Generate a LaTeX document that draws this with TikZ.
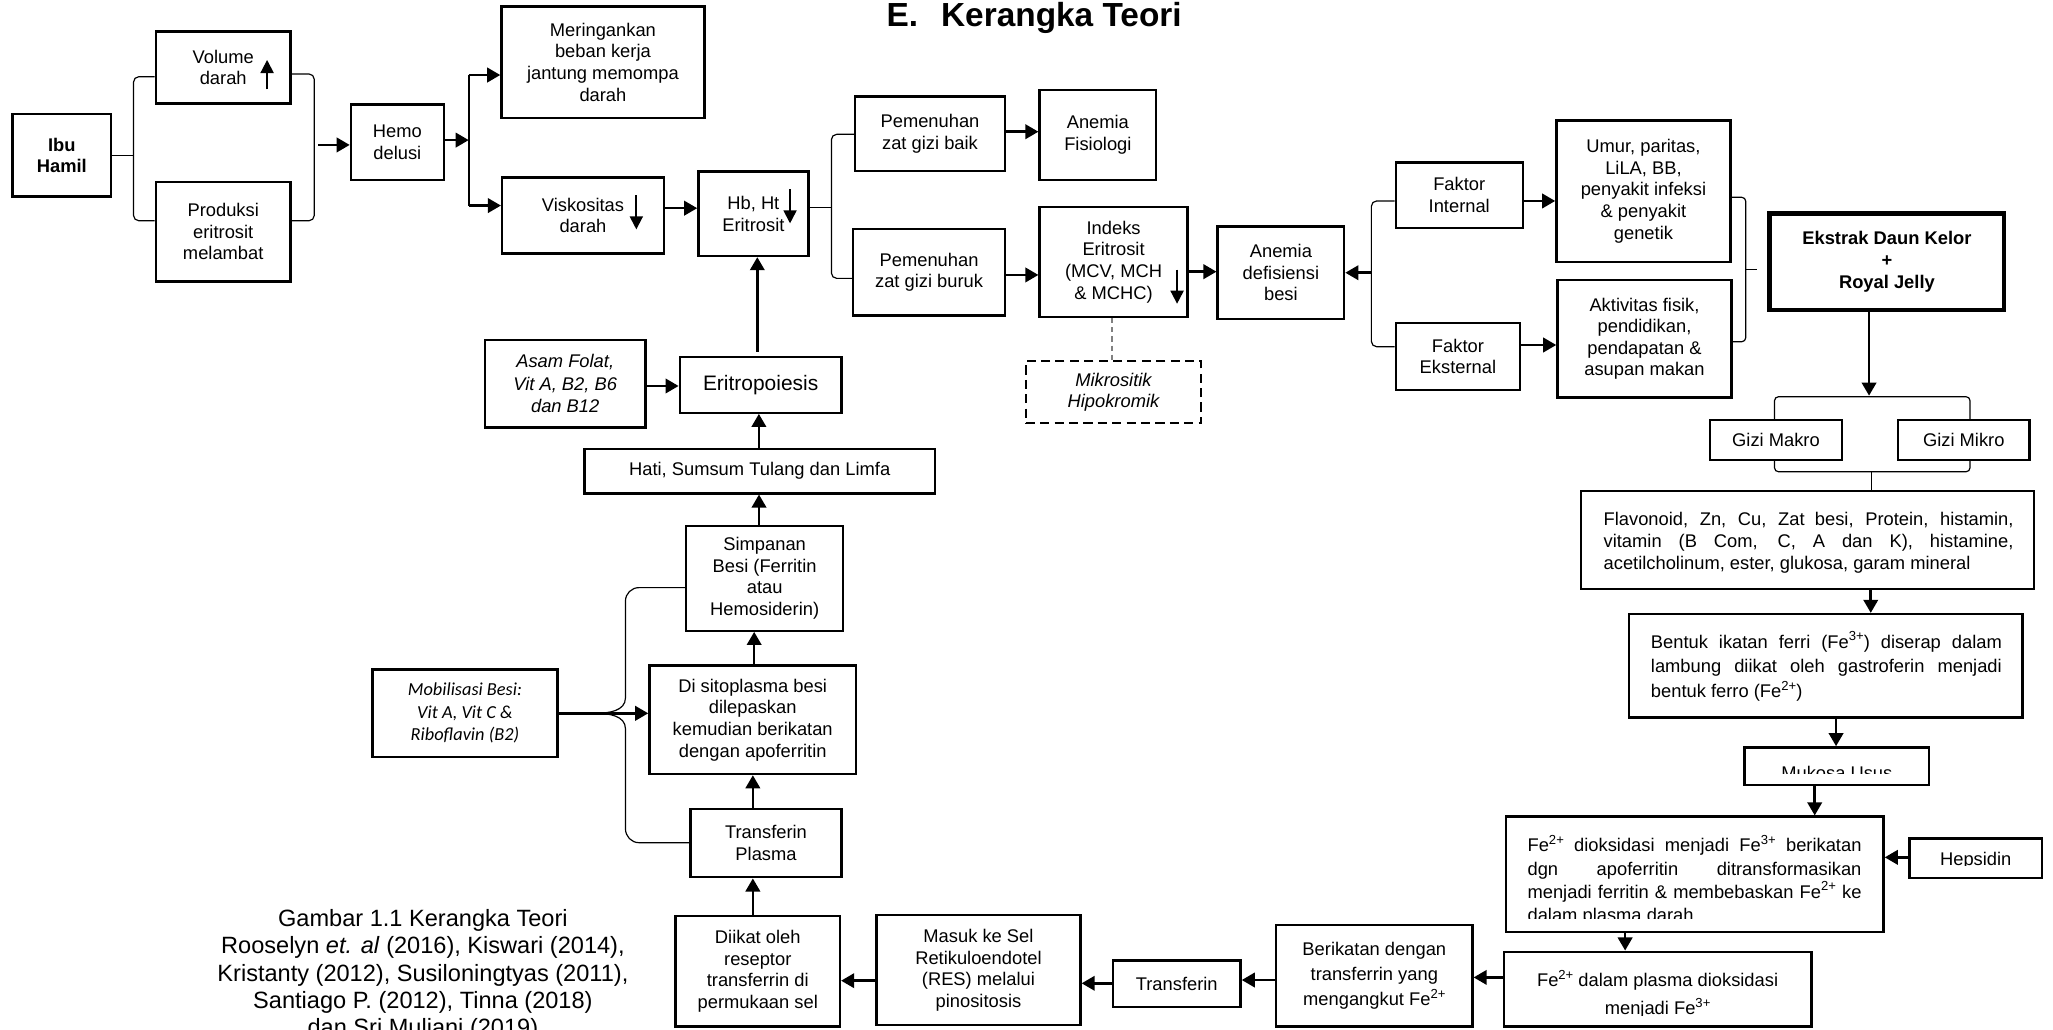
\documentclass[tikz,border=0pt]{standalone}
\usepackage{fontspec}
\setmainfont{Liberation Sans}
\newfontfamily\carlitofont{Carlito}
\usetikzlibrary{arrows.meta}
\newcommand{\bx}[7][]{\node[box,minimum width={#5-#3},minimum height={#6-#4},#1] (#2) at ({(#3+#5)/2},{(#4+#6)/2}) {#7};}
\newcommand{\vt}[2]{\vtop{\baselineskip=#1\lineskiplimit=-\maxdimen\lineskip=0pt #2}}
\newcommand{\cl}[1]{\hbox to 0pt{\hss #1\hss}}
\newcommand{\jl}[2]{\hbox{\makebox[#1][s]{#2}}}
\newcommand{\sps}[1]{\raisebox{0.42em}{\fontsize{10}{10}\selectfont #1}}
\tikzset{
 box/.style={draw, line width=1.8pt, inner sep=0pt, align=center, font=\fontsize{14}{16.5}\selectfont},
 txt/.style={inner sep=0pt, font=\fontsize{14}{16.5}\selectfont},
 arr/.style={line width=2pt, -{Triangle[length=10pt,width=11pt]}},
 arrs/.style={line width=1.4pt, -{Triangle[length=10pt,width=10pt]}},
 brk/.style={line width=0.9pt, rounded corners=4pt},
}
\begin{document}
\begin{tikzpicture}[x=1pt,y=-1pt]
\useasboundingbox (0,0) rectangle (1568,786);
\fill[white] (0,0) rectangle (1568,786);

% title
\node[anchor=base west, inner sep=0pt, font=\fontsize{25.5}{30}\selectfont\bfseries] (title) at (677,20.4) {E.\hspace{17.5pt}Kerangka Teori};

% top-left chain
\bx[font=\fontsize{14}{16}\selectfont\bfseries]{ibu}{9.5}{87}{85}{150}{Ibu\\Hamil}
\bx{vol}{119}{24}{222}{79}{Volume\\darah}
\bx{prod}{119}{139}{222}{215}{Produksi\\eritrosit\\melambat}
\bx{hemo}{268}{79.7}{339}{137.5}{Hemo\\delusi}
\bx{mer}{383}{5}{538}{90}{Meringankan\\beban kerja\\jantung memompa\\darah}
\bx{visk}{383.5}{135.7}{507}{193.5}{Viskositas\\darah}
\bx{hb}{533.4}{131}{617.4}{195.5}{Hb, Ht\\Eritrosit}
\bx{baik}{653}{73.8}{767.6}{130.6}{Pemenuhan\\zat gizi baik}
\bx{fis}{794}{68.7}{883}{137.5}{Anemia\\Fisiologi}
\bx{buruk}{651.6}{175}{767.6}{241}{Pemenuhan\\zat gizi buruk}
\bx{idx}{794}{158}{907}{242}{Indeks\\Eritrosit\\(MCV, MCH\\\& MCHC)}
\bx{adb}{930}{173}{1026.6}{243.7}{Anemia\\defisiensi\\besi}
\bx{fint}{1066}{124}{1163}{174}{Faktor\\Internal}
\bx{feks}{1066}{246.5}{1161}{297.9}{Faktor\\Eksternal}
\bx{umur}{1188.7}{92}{1321.7}{200}{Umur, paritas,\\LiLA, BB,\\penyakit infeksi\\\& penyakit\\genetik}
\bx{akt}{1189.5}{213.9}{1322.5}{303.7}{Aktivitas fisik,\\pendidikan,\\pendapatan \&\\asupan makan}
\bx[line width=3.5pt,font=\fontsize{14}{16.6}\selectfont\bfseries]{eks}{1351.6}{163}{1530.7}{236.8}{Ekstrak Daun Kelor\\+\\Royal Jelly}
\bx{makro}{1305.9}{320.8}{1406.9}{351.3}{Gizi Makro}
\bx{mikro}{1449.7}{320.8}{1550}{351.3}{Gizi Mikro}
\bx[dash pattern=on 7pt off 4pt,font=\fontsize{14}{16.5}\selectfont\itshape]{mik}{783.4}{275.7}{917.4}{323.3}{Mikrositik\\Hipokromik}

% left column
\bx[font=\fontsize{14}{17.2}\selectfont\itshape]{asam}{370.4}{259.7}{493}{326.4}{Asam Folat,\\Vit A, B2, B6\\dan B12}
\bx[font=\fontsize{16}{18}\selectfont]{eritro}{519.2}{272.9}{642.7}{315.2}{Eritropoiesis}
\bx{hati}{446.4}{343}{714}{376.8}{Hati, Sumsum Tulang dan Limfa}
\bx{simp}{524}{401.7}{644}{481.7}{Simpanan\\Besi (Ferritin\\atau\\Hemosiderin)}
\bx{sito}{496}{508.4}{653.8}{591.2}{Di sitoplasma besi\\dilepaskan\\kemudian berikatan\\dengan apoferritin}
\bx[font=\carlitofont\fontsize{14}{17.3}\selectfont\itshape]{mob}{284.4}{511.2}{425.8}{578}{Mobilisasi Besi:\\Vit A, Vit C \&\\Riboflavin (B2)}
\bx{tplas}{527.5}{618}{642.6}{670}{Transferin\\Plasma}
\bx{diikat}{516}{699.6}{641.5}{784.1}{Diikat oleh\\reseptor\\transferrin di\\permukaan sel}
\bx{masuk}{669.4}{698.9}{825.2}{782.9}{Masuk ke Sel\\Retikuloendotel\\(RES) melalui\\pinositosis}
\bx{trf}{850}{733.5}{947.5}{769.3}{Transferin}
\bx[font=\fontsize{14}{19.4}\selectfont]{berik}{974.7}{706.5}{1124.6}{784.1}{Berikatan dengan\\transferrin yang\\mengangkut Fe\sps{2+}}

% right column boxes with set text
\bx{flav}{1207.5}{374.8}{1553.7}{449.9}{}
\node[txt, anchor=base west] (flavT) at (1224.6,401) {\vt{17pt}{\jl{313pt}{Flavonoid, Zn, Cu, Zat besi, Protein, histamin,}\jl{313pt}{vitamin (B Com, C, A dan K), histamine,}\hbox{acetilcholinum, ester, glukosa, garam mineral}}};
\bx{bentuk}{1244.2}{469}{1544.8}{548}{}
\node[txt, anchor=base west] (bentukT) at (1260.7,495) {\vt{19pt}{\jl{268pt}{Bentuk ikatan ferri (Fe\sps{3+}) diserap dalam}\jl{268pt}{lambung diikat oleh gastroferin menjadi}\hbox{bentuk ferro (Fe\sps{2+})}}};
\bx{muk}{1332.3}{570.8}{1473.5}{599.6}{}
\begin{scope}
\clip (1333,571.5) rectangle (1473,590.8);
\node[txt, anchor=base] (mukT) at (1402.9,595) {Mukosa Usus};
\end{scope}
\bx{febox}{1150}{623.7}{1438.6}{711.6}{}
\begin{scope}
\clip (1151,624.5) rectangle (1438,701.8);
\node[txt, anchor=base west] (feboxT) at (1166.5,650.5) {\vt{17.8pt}{\jl{255pt}{Fe\sps{2+} dioksidasi menjadi Fe\sps{3+} berikatan}\jl{255pt}{dgn apoferritin ditransformasikan}\jl{255pt}{menjadi ferritin \& membebaskan Fe\sps{2+} ke}\hbox{dalam plasma darah}}};
\end{scope}
\bx{hep}{1458.5}{640.3}{1559.6}{670.8}{}
\begin{scope}
\clip (1459,641) rectangle (1559,661.3);
\node[txt, anchor=base] (hepT) at (1509,660.7) {Hepsidin};
\end{scope}
\bx{feplas}{1148.6}{726.9}{1383.5}{784.1}{}
\begin{scope}
\clip (1149,727.5) rectangle (1383,775.8);
\node[txt, anchor=base] (feplasT) at (1266,753.6) {\vt{21.6pt}{\cl{Fe\sps{2+} dalam plasma dioksidasi}\cl{menjadi Fe\sps{3+}}}};
\end{scope}

% caption
\node[inner sep=0pt, anchor=base, font=\fontsize{18}{20.8}\selectfont] (cap) at (323,707.8) {\vt{20.8pt}{\cl{Gambar 1.1 Kerangka Teori}\cl{Rooselyn \textit{et. al} (2016), Kiswari (2014),}\cl{Kristanty (2012), Susiloningtyas (2011),}\cl{Santiago P. (2012), Tinna (2018)}\cl{dan Sri Muljani (2019)}}};

% ---- connectors ----
\draw[brk] (ibu.east |- 0,118.7) -- (102,118.7);
\draw[brk] (vol.west |- 0,58.6) -| (102,118.7) |- (prod.west |- 0,168.6);
\draw[brk] (vol.east |- 0,56.5) -| (240,110) |- (prod.east |- 0,168.6);
\coordinate (rb) at (243,110.7);
\draw[arr] (rb) -- (hemo.west |- rb);
\coordinate (hj) at (358,107);
\draw[arr] (hemo.east |- hj) -- (hj);
\draw[line width=1.2pt] (358,57.3) -- (358,157);
\draw[arr] (358,57.3) -- (mer.west |- 0,57.3);
\draw[arr] (358,157) -- (visk.west |- 0,157);
\draw[arr] (visk.east |- 0,159) -- (hb.west |- 0,159);
\draw[brk] (hb.east |- 0,158.6) -- (635,158.6);
\draw[brk] (baik.west |- 0,102.6) -| (635,158.6) |- (buruk.west |- 0,212.6);
\draw[arr] (baik.east |- 0,100.6) -- (fis.west |- 0,100.6);
\draw[arr] (buruk.east |- 0,210) -- (idx.west |- 0,210);
\draw[arr] (idx.east |- 0,207.5) -- (adb.west |- 0,207.5);
\draw[gray, line width=1pt, dash pattern=on 4pt off 3pt] (idx.south -| 849.3,0) -- (mik.north -| 849.3,0);
\draw[brk] (fint.west |- 0,153.5) -| (1047.4,208.3) |- (feks.west |- 0,264.8);
\draw[arr] (1047.4,208.3) -- (adb.east |- 0,208.3);
\draw[arr] (fint.east |- 0,153.5) -- (umur.west |- 0,153.5);
\draw[arr] (feks.east |- 0,263.5) -- (akt.west |- 0,263.5);
\draw[brk, rounded corners=3pt] (umur.east |- 0,150.7) -| (1333.3,205.7) |- (akt.east |- 0,261);
\draw[line width=0.9pt] (1333.3,205.7) -- (1342,205.7);
\coordinate (gtop) at (1427.5,303);
\draw[arr] (eks.south -| gtop) -- ([yshift=0.8pt]gtop);
\draw[brk, rounded corners=3pt] (makro.north -| 1355.3,0) |- (gtop) -| (mikro.north -| 1504.6,0);
\draw[brk, rounded corners=3pt] (makro.south -| 1355.3,0) |- (1429.5,360.3) -| (mikro.south -| 1504.6,0);
\draw[line width=0.9pt] (1429.5,360.3) -- (flav.north -| 1429.5,0);
\draw[arr] (flav.south -| 1428.8,0) -- (bentuk.north -| 1428.8,0);
\draw[arr] (bentuk.south -| 1402.3,0) -- (muk.north -| 1402.3,0);
\draw[arr] (muk.south -| 1386,0) -- (febox.north -| 1386,0);
\draw[arr] (hep.west |- 0,654.8) -- (febox.east |- 0,654.8);
\draw[arr] (febox.south -| 1241.2,0) -- (feplas.north -| 1241.2,0);
\draw[arr] (feplas.west |- 0,746.5) -- (berik.east |- 0,746.5);
\draw[arr] (berik.west |- 0,748.5) -- (trf.east |- 0,748.5);
\draw[arr] (trf.west |- 0,751) -- (masuk.east |- 0,751);
\draw[arr] (masuk.west |- 0,749) -- (diikat.east |- 0,749);
\draw[arr] (diikat.north -| 575,0) -- (tplas.south -| 575,0);
\draw[arr] (tplas.north -| 575,0) -- (sito.south -| 575,0);
\draw[arr] (sito.north -| 576,0) -- (simp.south -| 576,0);
\draw[arr] (simp.north -| 579.7,0) -- (hati.south -| 579.7,0);
\draw[arr] (hati.north -| 579.6,0) -- (eritro.south -| 579.6,0);
\draw[arr] (578.4,268.6) -- (hb.south -| 578.4,0);
\draw[arr] (asam.east |- 0,294.8) -- (eritro.west |- 0,294.8);
\draw[arr] (mob.east |- 0,544.8) -- (sito.west |- 0,544.8);
\draw[line width=0.9pt] (simp.west |- 0,448.8) -- (488,448.8) to[out=180,in=90] (477.7,459) -- (477.7,533) to[out=-90,in=0] (455,544.8);
\draw[line width=0.9pt] (455,544.8) to[out=0,in=90] (477.7,556.6) -- (477.7,633) to[out=-90,in=180] (488,643.6) -- (tplas.west |- 0,643.6);
\draw[arrs] (204,68.2) -- (204,45.8);
\draw[arrs] (486,149) -- (486,175.2);
\draw[arrs] (603.4,144.6) -- (603.4,170.6);
\draw[arrs] (899,206) -- (899,232);
\end{tikzpicture}
\end{document}
